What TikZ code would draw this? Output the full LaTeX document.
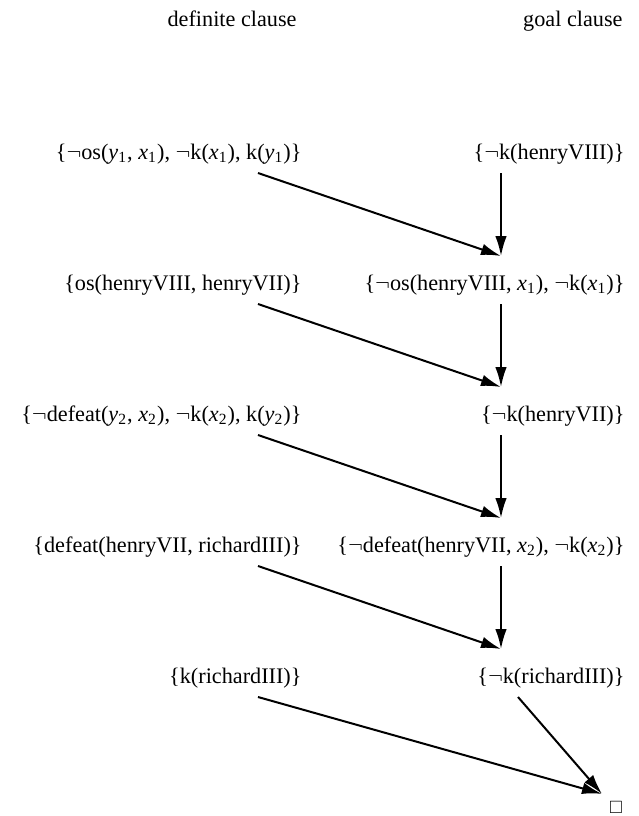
\documentclass[tikz,border=0pt]{standalone}
\usepackage{fontspec}
\setmainfont{Liberation Serif}
\usepackage{amssymb}
\usetikzlibrary{arrows.meta}

\newcommand{\var}[2]{\textit{#1}\textsubscript{#2}}
\newcommand{\nt}{$\neg$}

\begin{document}
\begin{tikzpicture}[x=0.45pt, y=-0.45pt,
    clause/.style={anchor=base east, inner sep=0pt},
    res/.style={-{Latex[length=9pt,width=5.2pt]}, line width=0.9pt}]

\useasboundingbox (0,0) rectangle (639,816);

\node[clause] (defhead) at (297,26) {definite clause};
\node[clause] (goalhead) at (623,26) {goal clause};

\node[clause] (d1) at (302,159) {\{\nt os(\var{y}{1}, \var{x}{1}), \nt k(\var{x}{1}), k(\var{y}{1})\}};
\node[clause] (g1) at (625,159) {\{\nt k(henryVIII)\}};
\node[clause] (d2) at (302,290) {\{os(henryVIII, henryVII)\}};
\node[clause] (g2) at (625,290) {\{\nt os(henryVIII, \var{x}{1}), \nt k(\var{x}{1})\}};
\node[clause] (d3) at (302,421) {\{\nt defeat(\var{y}{2}, \var{x}{2}), \nt k(\var{x}{2}), k(\var{y}{2})\}};
\node[clause] (g3) at (625,421) {\{\nt k(henryVII)\}};
\node[clause] (d4) at (302,552) {\{defeat(henryVII, richardIII)\}};
\node[clause] (g4) at (625,552) {\{\nt defeat(henryVII, \var{x}{2}), \nt k(\var{x}{2})\}};
\node[clause] (d5) at (302,683) {\{k(richardIII)\}};
\node[clause] (g5) at (625,683) {\{\nt k(richardIII)\}};
\node[inner sep=3pt, font=\footnotesize] (empty) at (616,807) {$\Box$};

% end points of the resolution arrows
\foreach \r/\c in {1/153, 2/284, 3/415, 4/546, 5/677} {
    \coordinate (ds\r) at (258,\c+20);
    \coordinate (gs\r) at (501,\c+20);
    \coordinate (gt\r) at (501,\c-28);
}
\coordinate (gs5) at (518,697);

\foreach \i/\j in {1/2, 2/3, 3/4, 4/5} {
    \draw[res] (ds\i) -- (gt\j);
    \draw[res] (gs\i) -- (gt\j);
}
\draw[res] (ds5) -- (empty.north west);
\draw[res] (gs5) -- (empty.north west);
%
\end{tikzpicture}
\end{document}
